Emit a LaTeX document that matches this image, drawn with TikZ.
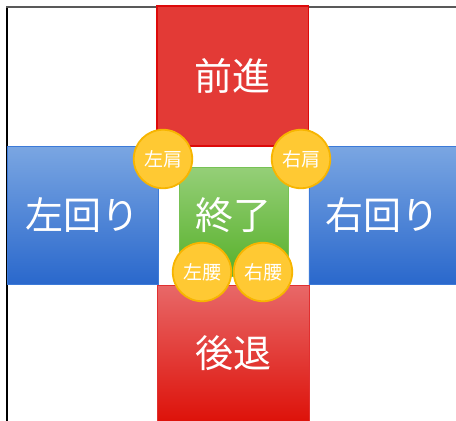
\documentclass[tikz,border=0pt]{standalone}
\usepackage{fontspec}
\newfontfamily\jp{Noto Sans CJK JP}
\definecolor{redfill}{HTML}{E33A36}
\definecolor{redline}{HTML}{DD0A0A}
\definecolor{bluetop}{HTML}{7AA6E2}
\definecolor{bluebot}{HTML}{2A68CC}
\definecolor{blueline}{HTML}{3C7AD8}
\definecolor{greentop}{HTML}{95CF78}
\definecolor{greenbot}{HTML}{57B02A}
\definecolor{greenline}{HTML}{77C255}
\definecolor{redtop}{HTML}{E86868}
\definecolor{redbot}{HTML}{DC0900}
\definecolor{redline2}{HTML}{E03030}
\definecolor{coinfill}{HTML}{FFC933}
\definecolor{coinline}{HTML}{F7B500}
\tikzset{
  bigbox/.style={rectangle, inner sep=0pt, text=white, font=\jp\fontsize{38}{40}\selectfont},
  coin/.style={circle, inner sep=0pt, minimum size=58.5pt, fill=coinfill, draw=coinline, line width=1.8pt, text=white, font=\jp\fontsize{19}{20}\selectfont}
}
\begin{document}
\begin{tikzpicture}[x=1pt,y=-1pt]
\useasboundingbox (0,0) rectangle (456,421);
\clip (0,0) rectangle (456,421);
% frame
\draw[black, line width=2pt] (6.5,6) -- (6.5,421);
\draw[black!65, line width=2pt] (6,6.5) -- (456,6.5);
% boxes
\node[bigbox, fill=redfill, draw=redline, line width=1.8pt, minimum width=151.5pt, minimum height=140pt] (forward) at (232.75,76) {前進};
\node[bigbox, top color=bluetop, bottom color=bluebot, draw=blueline, line width=0.8pt, minimum width=151pt, minimum height=138pt] (turnleft) at (82.5,215) {左回り};
\node[bigbox, top color=bluetop, bottom color=bluebot, draw=blueline, line width=0.8pt, minimum width=160pt, minimum height=138pt, anchor=west] (turnright) at (308.5,215) {\hspace*{-12pt}右回り};
\node[bigbox, top color=redtop, bottom color=redbot, draw=redline2, line width=0.8pt, minimum width=152pt, minimum height=150pt, anchor=north] (back) at (233,285) {};
\node[bigbox] (backlabel) at (233,353) {後退};
\node[bigbox, top color=greentop, bottom color=greenbot, draw=greenline, line width=0.8pt, minimum width=109pt, minimum height=109pt] (finish) at (233.5,221.5) {};
\node[bigbox] (finishlabel) at (233.5,215) {終了};
% coins
\node[coin] (ls) at (163,159) {左肩};
\node[coin] (rs) at (301,159) {右肩};
\node[coin] (lw) at (202,272) {左腰};
\node[coin] (rw) at (263,272) {右腰};
\end{tikzpicture}
\end{document}
